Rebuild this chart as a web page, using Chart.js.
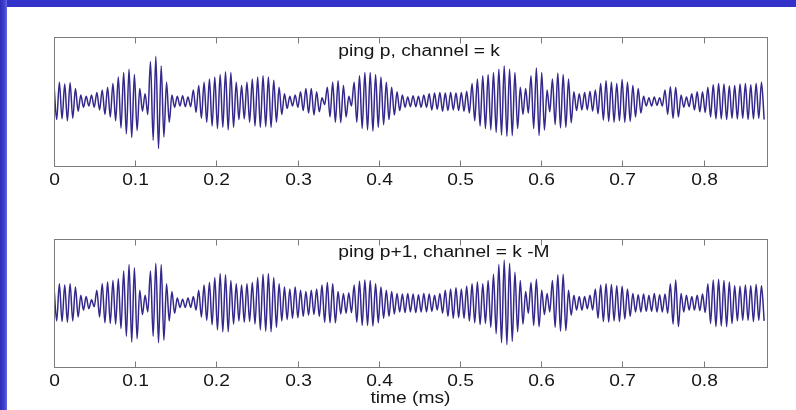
<!DOCTYPE html>
<html>
<head>
<meta charset="utf-8">
<script src="https://cdn.jsdelivr.net/npm/chart.js@4.4.1/dist/chart.umd.min.js"></script>
<style>
html,body{margin:0;padding:0;background:#fff;}
#wrap{position:relative;width:796px;height:410px;overflow:hidden;background:#fff;}
#topband{position:absolute;left:0;top:0;width:796px;height:7px;background:#3333cc;}
#leftband{position:absolute;left:0;top:0;width:7px;height:410px;background:linear-gradient(to right,#2b2bb5,#4545d6 70%,#6c6ce0);}
canvas{position:absolute;left:0;}
#c1{top:0;width:796px;height:200px;}
#c2{top:200px;width:796px;height:210px;}
</style>
</head>
<body>
<div id="wrap">
<canvas id="c1" width="796" height="200"></canvas>
<canvas id="c2" width="796" height="210"></canvas>
<div id="topband"></div><div id="leftband"></div>
</div>
<script>
// ---- data (successive peak / trough values of each trace) ----
const xTicks = [0, 0.1, 0.2, 0.3, 0.4, 0.5, 0.6, 0.7, 0.8];
const xTickLabels = ['0', '0.1', '0.2', '0.3', '0.4', '0.5', '0.6', '0.7', '0.8'];
const halfStep = 0.0033;          // ms between successive extrema
const xMax = 0.878;               // ms, right end of the axes
const titleTop = 'ping p, channel = k';
const titleBottom = 'ping p+1, channel = k -M';
const xLabel = 'time (ms)';

const topSignal = [
 .26,-.28, .30,-.27, .27,-.30, .29,-.26, .20,-.15, .10,-.09, .08,-.07, .10,-.09, .14,-.13, .18,-.20,
 .22,-.24, .28,-.30, .38,-.41, .45,-.50, .50,-.56, .42,-.45, .20,-.15, .12,-.20, .62,-.60, .70,-.73,
 .55,-.55, .30,-.32, .10,-.09, .08,-.07, .09,-.08, .07,-.08, .18,-.17, .25,-.26, .30,-.32, .35,-.38,
 .38,-.42, .42,-.40, .46,-.44, .45,-.40, .30,-.28, .25,-.27, .30,-.32, .35,-.38, .38,-.40, .40,-.39,
 .38,-.40, .33,-.32, .22,-.20, .12,-.11, .08,-.07, .10,-.09, .15,-.14, .20,-.18, .20,-.21, .15,-.16,
 .06,-.05, .22,-.24, .30,-.32, .32,-.33, .25,-.24, .08,-.07, .30,-.32, .40,-.42, .45,-.44, .45,-.46,
 .42,-.40, .38,-.36, .30,-.28, .22,-.21, .15,-.14, .10,-.09, .07,-.08, .09,-.08, .08,-.09, .10,-.09,
 .12,-.13, .13,-.12, .14,-.15, .13,-.14, .14,-.13, .13,-.14, .14,-.15, .16,-.18, .28,-.30, .35,-.38,
 .40,-.42, .42,-.44, .45,-.48, .50,-.52, .55,-.54, .50,-.53, .45,-.42, .22,-.20, .20,-.18, .40,-.42,
 .52,-.53, .45,-.44, .18,-.16, .35,-.36, .44,-.41, .42,-.40, .35,-.33, .15,-.14, .12,-.13, .14,-.13,
 .16,-.15, .18,-.19, .28,-.29, .32,-.31, .30,-.32, .28,-.30, .34,-.32, .30,-.31, .25,-.24, .20,-.18,
 .08,-.07, .06,-.07, .07,-.06, .06,-.07, .18,-.20, .23,-.26, .22,-.24, .10,-.09, .07,-.08, .12,-.13,
 .15,-.16, .15,-.17, .22,-.24, .26,-.27, .28,-.27, .27,-.28, .24,-.26, .25,-.27, .27,-.26, .28,-.28,
 .26,-.27, .28,-.26, .30,-.28
];

const bottomSignal = [
 .25,-.28, .30,-.29, .28,-.30, .30,-.28, .25,-.22, .12,-.11, .10,-.09, .05,-.06, .20,-.22, .30,-.31,
 .33,-.32, .35,-.33, .38,-.40, .50,-.52, .60,-.61, .55,-.56, .20,-.18, .12,-.14, .50,-.52, .62,-.62,
 .60,-.58, .30,-.28, .18,-.16, .08,-.07, .06,-.07, .08,-.07, .10,-.11, .20,-.22, .28,-.27, .32,-.34,
 .40,-.42, .46,-.45, .44,-.45, .35,-.33, .30,-.28, .28,-.30, .30,-.29, .32,-.33, .40,-.42, .45,-.44,
 .46,-.45, .40,-.38, .30,-.28, .25,-.26, .22,-.24, .25,-.23, .20,-.21, .18,-.19, .20,-.18, .22,-.21,
 .28,-.30, .32,-.31, .30,-.31, .18,-.17, .15,-.16, .16,-.15, .28,-.30, .34,-.35, .36,-.35, .35,-.36,
 .30,-.31, .25,-.24, .20,-.21, .18,-.17, .15,-.14, .14,-.15, .15,-.14, .14,-.15, .13,-.14, .15,-.14,
 .14,-.13, .12,-.11, .15,-.16, .20,-.21, .22,-.24, .24,-.23, .22,-.24, .26,-.28, .30,-.31, .33,-.34,
 .30,-.32, .35,-.38, .45,-.48, .60,-.62, .67,-.65, .62,-.60, .48,-.45, .35,-.33, .18,-.16, .32,-.35,
 .37,-.37, .20,-.18, .15,-.14, .35,-.38, .44,-.44, .45,-.43, .20,-.19, .12,-.11, .10,-.11, .10,-.09,
 .12,-.11, .22,-.24, .28,-.29, .30,-.30, .29,-.28, .27,-.29, .26,-.25, .22,-.21, .15,-.14, .13,-.14,
 .14,-.13, .12,-.13, .15,-.14, .13,-.14, .14,-.16, .30,-.33, .36,-.37, .15,-.14, .12,-.11, .10,-.11,
 .12,-.12, .14,-.15, .30,-.32, .36,-.37, .37,-.36, .35,-.37, .33,-.32, .27,-.28, .26,-.27, .28,-.27,
 .27,-.29, .29,-.27, .27,-.28
];

// ---- drawing ----
const TEXT_FONT = '16px "Liberation Sans", Arial, Helvetica, sans-serif';
const TEXT_STRETCH = 1.2;

function stretchedText(ctx, text, x, y, align) {
  ctx.save();
  ctx.translate(x, y);
  ctx.scale(TEXT_STRETCH, 1);
  ctx.font = TEXT_FONT;
  ctx.fillStyle = '#151515';
  ctx.textAlign = align;
  ctx.textBaseline = 'middle';
  ctx.fillText(text, 0, 0);
  ctx.restore();
}

const framePlugin = {
  id: 'matlabFrame',
  afterDatasetsDraw(chart, args, opts) {
    const {ctx, chartArea: a} = chart;
    const x = chart.scales.x;
    ctx.save();
    ctx.strokeStyle = '#7c7c7c';
    ctx.lineWidth = 1;
    const L = Math.round(a.left) + 0.5, T = Math.round(a.top) + 0.5;
    const R = Math.round(a.right) + 0.5, B = Math.round(a.bottom) + 0.5;
    ctx.strokeRect(L, T, R - L, B - T);
    xTicks.forEach((v, i) => {
      const px = Math.round(x.getPixelForValue(v)) + 0.5;
      ctx.beginPath();
      ctx.moveTo(px, T); ctx.lineTo(px, T + 6);
      ctx.moveTo(px, B); ctx.lineTo(px, B - 6);
      ctx.stroke();
      stretchedText(ctx, xTickLabels[i], px, a.bottom + opts.labelGap, 'center');
    });
    stretchedText(ctx, opts.title, x.getPixelForValue(opts.titleAt), a.top + opts.titleGap, 'left');
    if (opts.xlabel) stretchedText(ctx, opts.xlabel, (a.left + a.right) / 2, a.bottom + opts.xlabelGap, 'center');
    ctx.restore();
  }
};

function makeChart(id, values, padding, frameOpts) {
  return new Chart(document.getElementById(id), {
    type: 'line',
    data: {
      datasets: [{
        data: values.map((v, i) => ({x: i * halfStep, y: v})),
        borderColor: '#33288c',
        borderWidth: 1.5,
        pointRadius: 0,
        fill: false,
        cubicInterpolationMode: 'monotone'
      }]
    },
    options: {
      responsive: false,
      animation: false,
      events: [],
      layout: {padding},
      plugins: {legend: {display: false}, tooltip: {enabled: false}, matlabFrame: frameOpts},
      scales: {
        x: {type: 'linear', min: 0, max: xMax, display: false},
        y: {type: 'linear', min: -1, max: 1, display: false}
      }
    },
    plugins: [framePlugin]
  });
}

makeChart('c1', topSignal, {left: 54, right: 29, top: 37, bottom: 34},
  {title: titleTop, titleAt: 0.35, titleGap: 15, labelGap: 15});
makeChart('c2', bottomSignal, {left: 54, right: 29, top: 39, bottom: 43},
  {title: titleBottom, titleAt: 0.35, titleGap: 14, labelGap: 15, xlabel: xLabel, xlabelGap: 32});
</script>
</body>
</html>
